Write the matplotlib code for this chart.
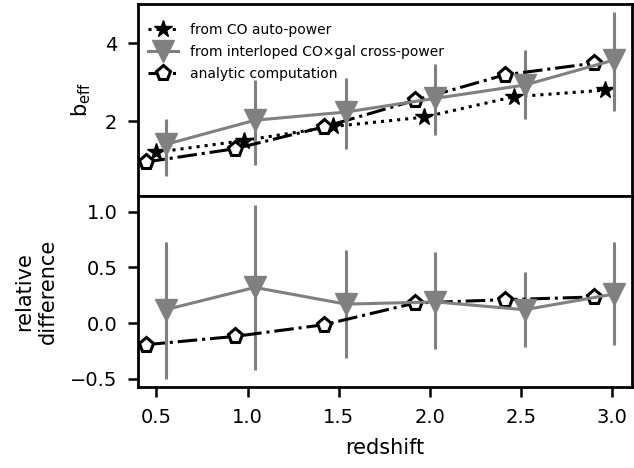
import matplotlib
matplotlib.use('Agg')
import matplotlib.pyplot as plt
import numpy as np

# redshift positions (slightly offset per series, as in the figure)
z_auto = [0.50, 0.98, 1.47, 1.97, 2.46, 2.96]
z_cross = [0.55, 1.04, 1.54, 2.03, 2.52, 3.01]
z_analytic = [0.44, 0.93, 1.42, 1.92, 2.41, 2.90]

# effective bias
b_auto = [1.21, 1.51, 1.87, 2.11, 2.63, 2.80]
b_cross = [1.41, 2.03, 2.24, 2.59, 2.93, 3.57]
b_cross_lo = [0.61, 0.89, 1.30, 1.66, 2.07, 2.26]
b_cross_hi = [2.05, 3.06, 3.10, 3.47, 3.83, 4.81]
b_analytic = [0.96, 1.30, 1.86, 2.54, 3.19, 3.49]

# relative difference
rd_cross = [0.12, 0.32, 0.17, 0.19, 0.12, 0.26]
rd_cross_lo = [-0.50, -0.42, -0.315, -0.23, -0.215, -0.20]
rd_cross_hi = [0.73, 1.06, 0.66, 0.635, 0.46, 0.725]
rd_analytic = [-0.195, -0.12, -0.015, 0.18, 0.21, 0.234]

xticks = [0.5, 1.0, 1.5, 2.0, 2.5, 3.0]

fig, (ax1, ax2) = plt.subplots(2, 1, figsize=(6.34, 4.68), dpi=100, sharex=True)
fig.subplots_adjust(left=0.218, right=0.997, top=0.991, bottom=0.173, hspace=0)

grey = '#808080'

b_err = [np.array(b_cross) - np.array(b_cross_lo), np.array(b_cross_hi) - np.array(b_cross)]
rd_err = [np.array(rd_cross) - np.array(rd_cross_lo), np.array(rd_cross_hi) - np.array(rd_cross)]

l_auto, = ax1.plot(z_auto, b_auto, ls=':', color='k', lw=2.2, marker='*', ms=13,
                   label='from CO auto-power')
eb = ax1.errorbar(z_cross, b_cross, yerr=b_err, color=grey, lw=2.2, elinewidth=2.2,
                  marker='v', ms=16, label='from interloped CO×gal cross-power')
l_an, = ax1.plot(z_analytic, b_analytic, ls='-.', color='k', lw=2.2, marker='p', ms=11,
                 mfc='white', mec='k', mew=2.2, label='analytic computation')

ax2.errorbar(z_cross, rd_cross, yerr=rd_err, color=grey, lw=2.2, elinewidth=2.2,
             marker='v', ms=16)
ax2.plot(z_analytic, rd_analytic, ls='-.', color='k', lw=2.2, marker='p', ms=11,
         mfc='white', mec='k', mew=2.2)

ax1.set_ylim(0.1, 5.0)
ax1.set_yticks([2, 4])
ax2.set_ylim(-0.575, 1.145)
ax2.set_yticks([-0.5, 0.0, 0.5, 1.0])
ax2.set_xlim(0.4, 3.11)
ax2.set_xticks(xticks)

ax1.set_ylabel(r'b$_{\rm eff}$', fontsize=15, labelpad=9)
ax2.set_ylabel('relative\ndifference', fontsize=15, labelpad=9)
ax2.set_xlabel('redshift', fontsize=15, labelpad=8)

for ax in (ax1, ax2):
    ax.tick_params(labelsize=14, length=7, width=1.8, pad=8)
    for sp in ax.spines.values():
        sp.set_linewidth(2)

ax1.legend([l_auto, eb[0], l_an],
           ['from CO auto-power', 'from interloped CO×gal cross-power', 'analytic computation'],
           loc='upper left', bbox_to_anchor=(0.0, 0.955), frameon=False, fontsize=10,
           handlelength=2.2, borderaxespad=0.3, labelspacing=0.6)

fig.savefig('out.png', dpi=100)
